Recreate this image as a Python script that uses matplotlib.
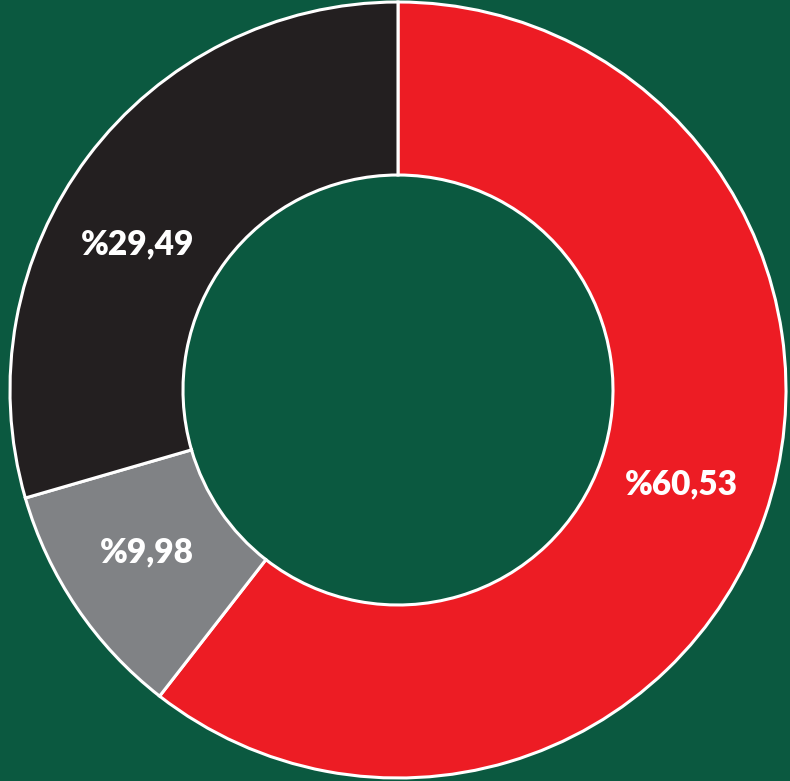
import numpy as np
import matplotlib.pyplot as plt

# parts of the ring, clockwise from the top
labels = ["Kırmızı", "Gri", "Siyah"]
values = [60.53, 9.98, 29.49]
colors = ["#ed1c24", "#808285", "#231f20"]

bg = "#0b5940"

fig = plt.figure(figsize=(7.9, 7.81), dpi=100, facecolor=bg)
ax = fig.add_axes([0, 0, 1, 1])
ax.set_facecolor(bg)

cx, cy, R = 398, 391, 388
wedges, texts, autotexts = ax.pie(
    values,
    colors=colors,
    startangle=90,
    counterclock=False,
    radius=R,
    center=(cx, cy),
    pctdistance=0.77,
    autopct=lambda p: "%" + f"{p:.2f}".replace(".", ","),
    wedgeprops=dict(width=173, edgecolor="white", linewidth=2.2),
    textprops=dict(color="white", fontsize=24, fontweight="heavy", family="Lato"),
)

# nudge the labels a little along the ring, like the original
shift = [0.6, -1.2, 7.7]
for w, t, s in zip(wedges, autotexts, shift):
    ang = np.deg2rad((w.theta1 + w.theta2) / 2 + s)
    t.set_position((cx + 0.77 * R * np.cos(ang), cy + 0.77 * R * np.sin(ang)))

ax.set_xlim(0, 790)
ax.set_ylim(0, 781)
ax.set_aspect("equal")
ax.axis("off")

fig.savefig("out.png", dpi=100, facecolor=bg)
